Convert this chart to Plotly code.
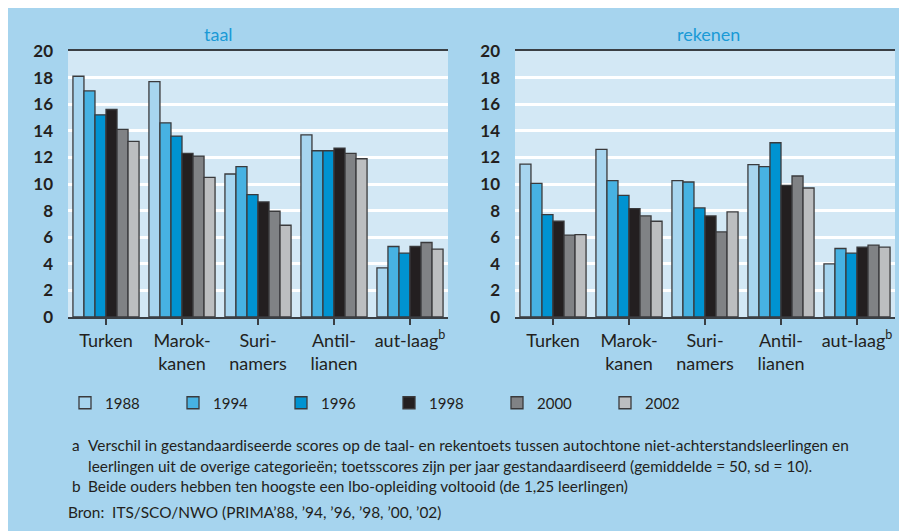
import plotly.graph_objects as go

# ---- data ----
categories = ["Turken", "Marok-<br>kanen", "Suri-<br>namers", "Antil-<br>lianen", "aut-laag<sup>b</sup>"]
years = ["1988", "1994", "1996", "1998", "2000", "2002"]

taal_1988 = [18.1, 17.7, 10.75, 13.7, 3.7]
taal_1994 = [17.0, 14.6, 11.3, 12.5, 5.3]
taal_1996 = [15.2, 13.6, 9.2, 12.5, 4.8]
taal_1998 = [15.6, 12.3, 8.65, 12.7, 5.3]
taal_2000 = [14.1, 12.1, 7.95, 12.3, 5.6]
taal_2002 = [13.2, 10.5, 6.9, 11.9, 5.1]

rekenen_1988 = [11.5, 12.6, 10.25, 11.45, 4.0]
rekenen_1994 = [10.05, 10.25, 10.15, 11.3, 5.15]
rekenen_1996 = [7.7, 9.15, 8.2, 13.1, 4.8]
rekenen_1998 = [7.2, 8.15, 7.6, 9.9, 5.25]
rekenen_2000 = [6.15, 7.6, 6.4, 10.6, 5.4]
rekenen_2002 = [6.2, 7.2, 7.9, 9.7, 5.25]

y_ticks = [0, 2, 4, 6, 8, 10, 12, 14, 16, 18, 20]

taal = [taal_1988, taal_1994, taal_1996, taal_1998, taal_2000, taal_2002]
rekenen = [rekenen_1988, rekenen_1994, rekenen_1996, rekenen_1998, rekenen_2000, rekenen_2002]

# ---- style ----
colors = ["#a7d5ef", "#47b2e2", "#0093d1", "#231f20", "#808285", "#bcbec0"]
FONT = "Lato, Liberation Sans, sans-serif"
TXT = "#231f20"
# the page body adds an 8 px white margin at left/top
OX, OY = 8, 8
W, H = 907 - OX, 531 - OY


def px(x):
    return (x - OX) / W


def py(y):
    return 1 - (y - OY) / H


fig = go.Figure()
for i, yr in enumerate(years):
    fig.add_trace(go.Bar(x=categories, y=taal[i], name=yr, legendgroup=yr,
                         marker=dict(color=colors[i], line=dict(color="#3a3a3c", width=1.3)),
                         xaxis="x", yaxis="y", showlegend=True))
for i, yr in enumerate(years):
    fig.add_trace(go.Bar(x=categories, y=rekenen[i], name=yr, legendgroup=yr,
                         marker=dict(color=colors[i], line=dict(color="#3a3a3c", width=1.3)),
                         xaxis="x2", yaxis="y2", showlegend=False))

ydom = [py(317), py(51)]
xcommon = dict(showline=True, mirror=True, linecolor="#3a3f44", linewidth=2,
               ticks="outside", ticklen=6, tickwidth=1.5, tickcolor="#3a3f44",
               tickfont=dict(family=FONT, size=18, color=TXT), showgrid=False,
               ticklabelstandoff=0)
ycommon = dict(range=[0, 20], tickvals=y_ticks, showgrid=True, gridcolor="white",
               gridwidth=2.5, zeroline=False, showline=False, ticks="",
               tickfont=dict(family=FONT, size=17, color=TXT, weight="bold"),
               ticklabelstandoff=14)

fig.update_layout(
    width=W, height=H,
    margin=dict(l=0, r=0, t=0, b=0, autoexpand=False),
    paper_bgcolor="#a6d4ee",
    plot_bgcolor="#d3e8f5",
    barmode="group", bargap=0.13, bargroupgap=0,
    font=dict(family=FONT, color=TXT),
    xaxis=dict(domain=[px(68), px(448)], anchor="y", **xcommon),
    xaxis2=dict(domain=[px(515), px(895)], anchor="y2", **xcommon),
    yaxis=dict(domain=ydom, anchor="x", **ycommon),
    yaxis2=dict(domain=ydom, anchor="x2", **ycommon),
    legend=dict(orientation="h", x=px(65), xanchor="left", y=py(403), yanchor="middle",
                entrywidth=63, entrywidthmode="pixels", bgcolor="rgba(0,0,0,0)",
                font=dict(family=FONT, size=15, color=TXT), traceorder="normal"),
)

ann = []
ann.append(dict(text="taal", x=px(218), y=py(34), xref="paper", yref="paper",
                xanchor="center", yanchor="middle",
                showarrow=False, font=dict(family=FONT, size=18, color="#1a9ad6")))
ann.append(dict(text="rekenen", x=px(708), y=py(34), xref="paper", yref="paper",
                xanchor="center", yanchor="middle",
                showarrow=False, font=dict(family=FONT, size=18, color="#1a9ad6")))

NS = 15.4
notes = [
    ("a", "Verschil in gestandaardiseerde scores op de taal- en rekentoets tussen autochtone niet-achterstandsleerlingen en", 445),
    ("", "leerlingen uit de overige categorieën; toetsscores zijn per jaar gestandaardiseerd (gemiddelde = 50, sd = 10).", 466),
    ("b", "Beide ouders hebben ten hoogste een lbo-opleiding voltooid (de 1,25 leerlingen)", 486),
]
for letter, text, yy in notes:
    if letter:
        ann.append(dict(text=letter, x=px(70), y=py(yy), xref="paper", yref="paper",
                        xanchor="left", yanchor="middle", showarrow=False,
                        font=dict(family=FONT, size=NS, color=TXT)))
    ann.append(dict(text=text, x=px(86), y=py(yy), xref="paper", yref="paper",
                    xanchor="left", yanchor="middle", showarrow=False,
                    font=dict(family=FONT, size=NS, color=TXT)))
ann.append(dict(text="Bron:  ITS/SCO/NWO (PRIMA’88, ’94, ’96, ’98, ’00, ’02)", x=px(66), y=py(512),
                xref="paper", yref="paper", xanchor="left", yanchor="middle", showarrow=False,
                font=dict(family=FONT, size=NS, color=TXT)))
fig.update_layout(annotations=ann)

fig.write_html("out.html")
